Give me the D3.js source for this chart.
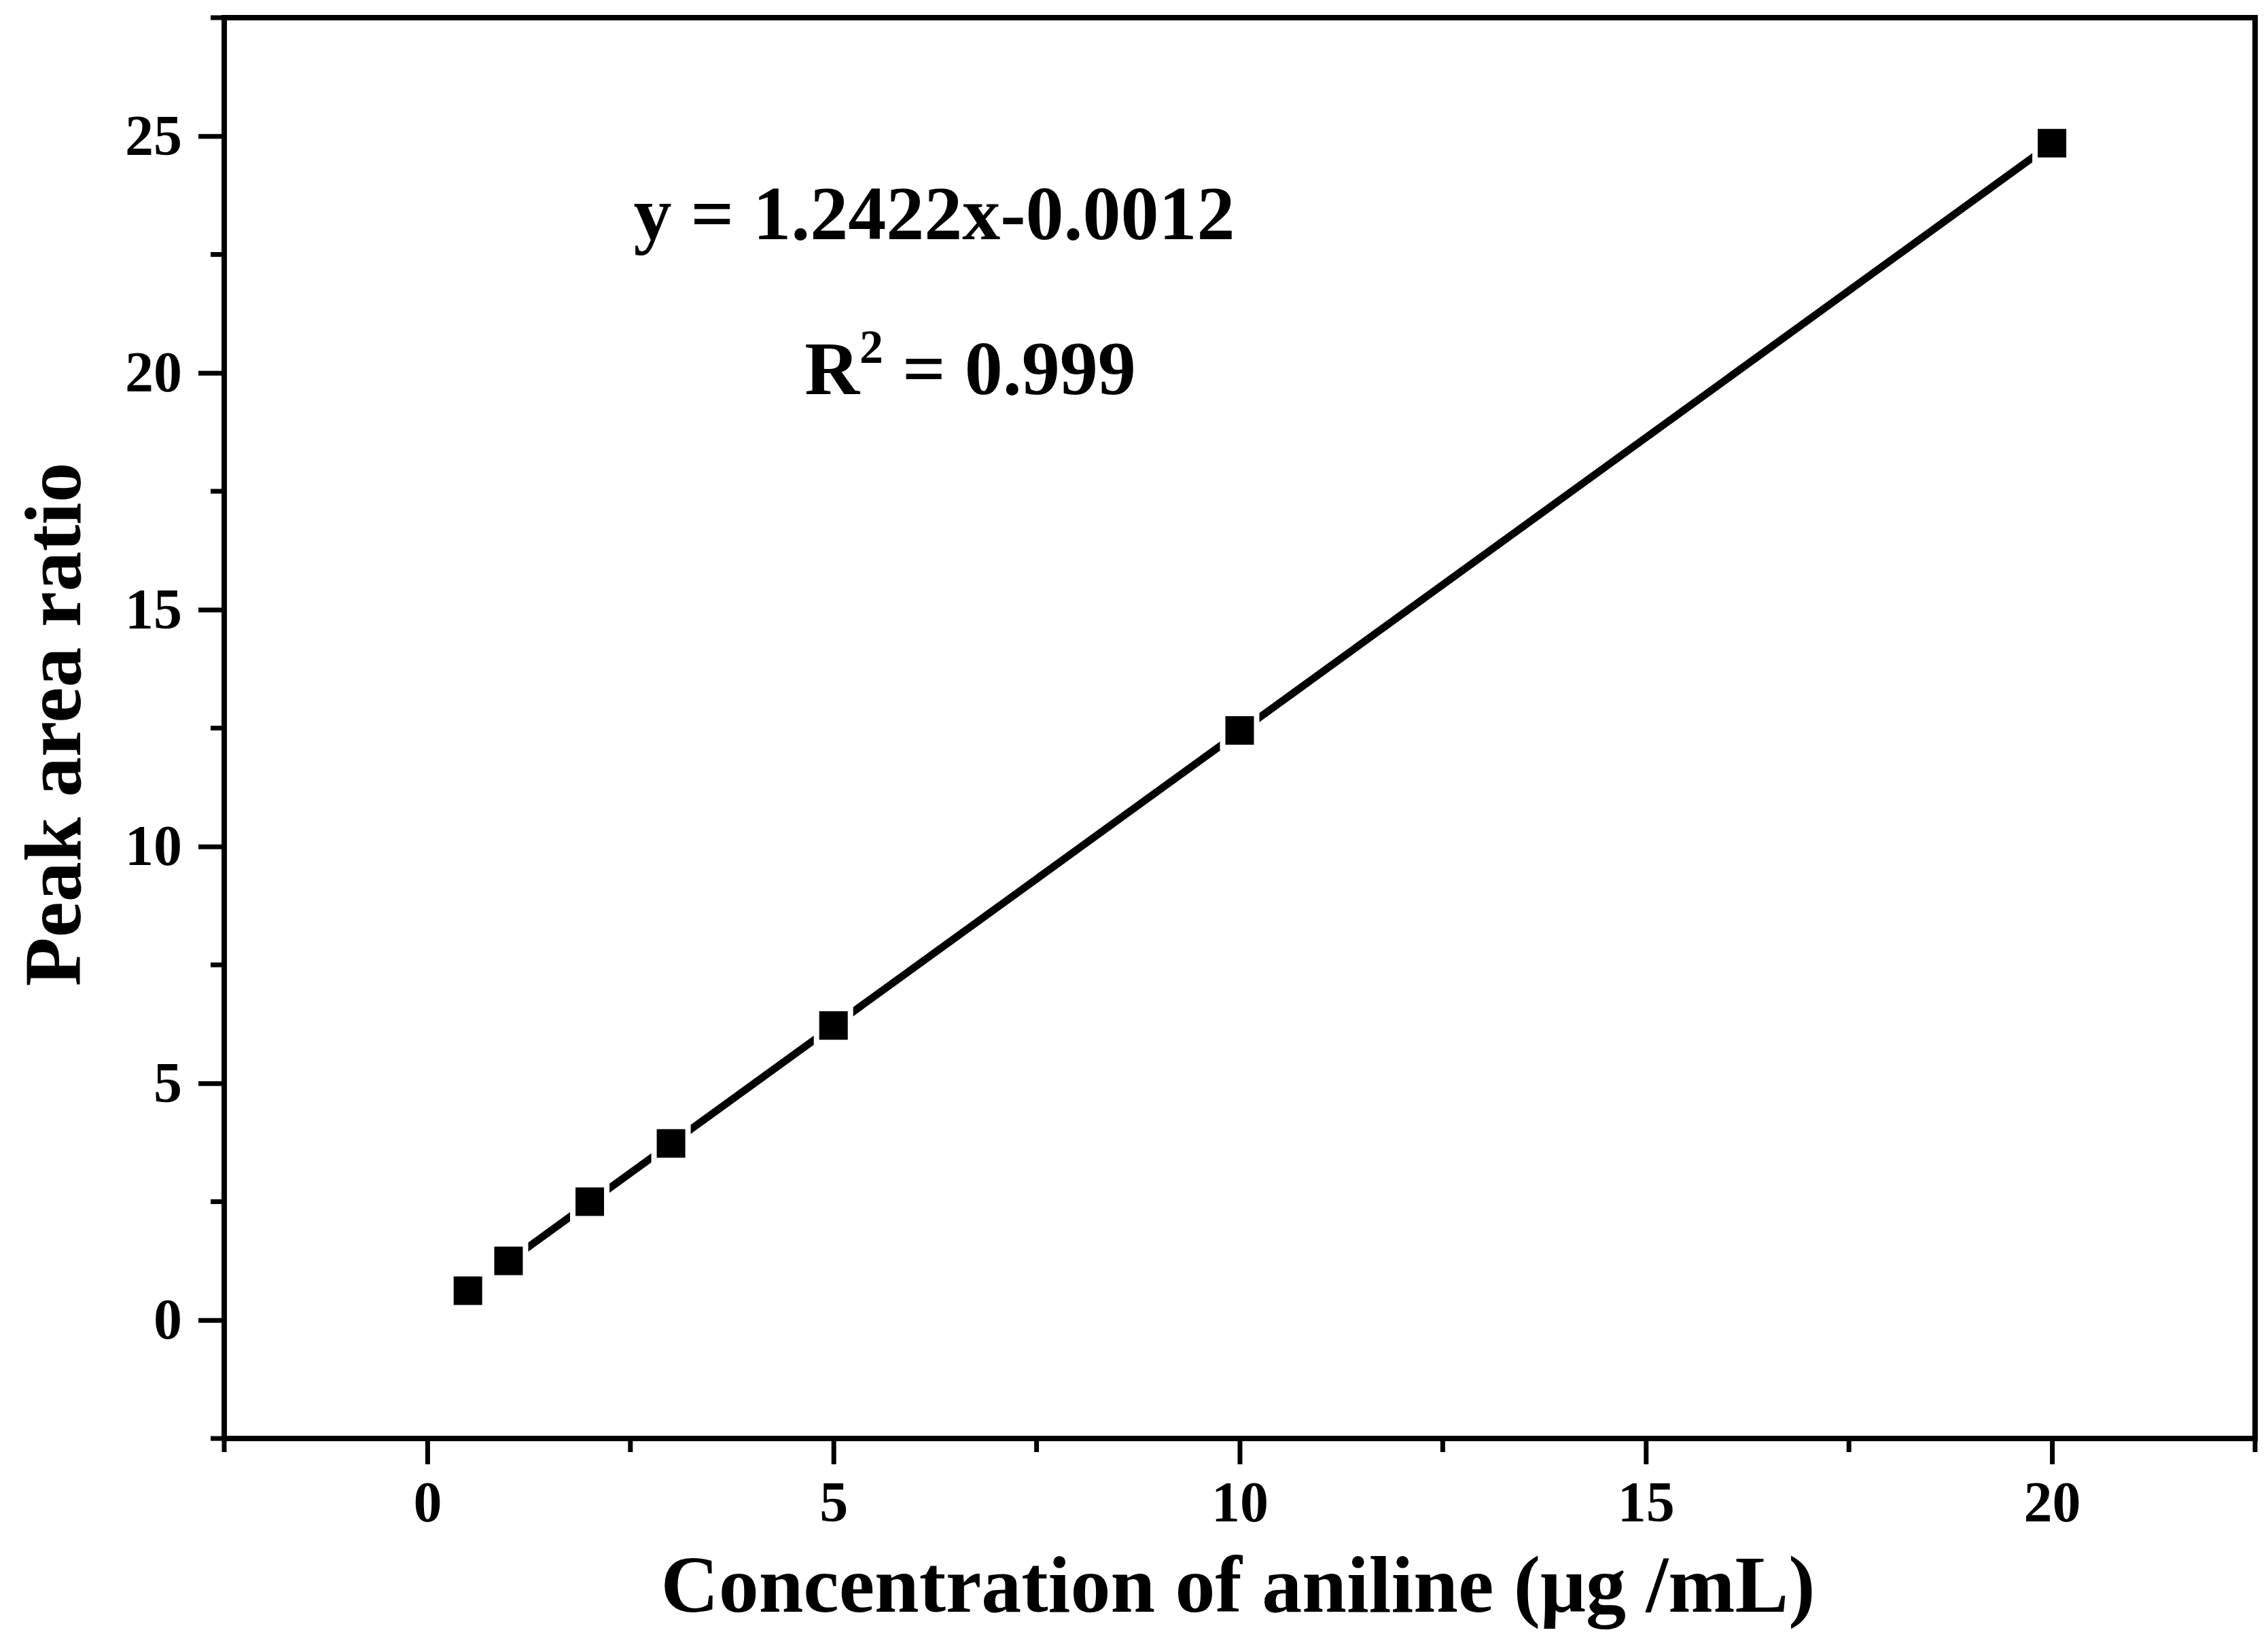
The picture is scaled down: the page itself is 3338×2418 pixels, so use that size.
<!DOCTYPE html>
<html><head><meta charset="utf-8">
<script src="https://cdn.jsdelivr.net/npm/d3@7"></script>
<style>body{margin:0;background:#fff}</style>
</head><body>
<div class="canvas"></div>
<script>
// Data
const conc = [0.5, 1, 2, 3, 5, 10, 20];
const ratio = [0.62, 1.25, 2.5, 3.73, 6.22, 12.45, 24.85];
const slope = 1.2422, intercept = -0.0012;
const fitRange = [1, 20];
const xTicks = [0, 5, 10, 15, 20];
const yTicks = [0, 5, 10, 15, 20, 25];

const W = 3338, H = 2418;
const m = {left: 330, right: 3319, top: 26, bottom: 2117};
const font = '"Liberation Serif", "DejaVu Serif", serif';

const svg = d3.select('.canvas').append('svg')
    .attr('width', W).attr('height', H);

const x = d3.scaleLinear().domain([-2.5, 22.5]).range([m.left, m.right]);
const y = d3.scaleLinear().domain([-2.5, 27.5]).range([m.bottom, m.top]);

// Frame
svg.append('rect')
    .attr('x', m.left).attr('y', m.top)
    .attr('width', m.right - m.left).attr('height', m.bottom - m.top)
    .attr('fill', 'none').attr('stroke', '#000').attr('stroke-width', 8);

// Axes
const xAxis = svg.append('g').attr('transform', `translate(0,${m.bottom})`)
    .call(d3.axisBottom(x).tickValues(xTicks).tickSize(38).tickPadding(24).tickFormat(d3.format('d')));
const yAxis = svg.append('g').attr('transform', `translate(${m.left},0)`)
    .call(d3.axisLeft(y).tickValues(yTicks).tickSize(38).tickPadding(24).tickFormat(d3.format('d')));
[xAxis, yAxis].forEach(a => {
    a.select('.domain').remove();
    a.selectAll('line').attr('stroke-width', 7);
    a.selectAll('text').attr('font-family', font).attr('font-size', 84).attr('font-weight', 'bold').attr('fill', '#000');
});

// Minor ticks
const xMinor = d3.range(-2.5, 22.6, 2.5).filter(v => v % 5 !== 0);
const yMinor = d3.range(-2.5, 27.6, 2.5).filter(v => v % 5 !== 0);
svg.append('g').selectAll('line').data(xMinor).join('line')
    .attr('x1', d => x(d)).attr('x2', d => x(d))
    .attr('y1', m.bottom).attr('y2', m.bottom + 20)
    .attr('stroke', '#000').attr('stroke-width', 7);
svg.append('g').selectAll('line').data(yMinor).join('line')
    .attr('y1', d => y(d)).attr('y2', d => y(d))
    .attr('x1', m.left).attr('x2', m.left - 20)
    .attr('stroke', '#000').attr('stroke-width', 7);

// Fit line
svg.append('line')
    .attr('x1', x(fitRange[0])).attr('y1', y(slope * fitRange[0] + intercept))
    .attr('x2', x(fitRange[1])).attr('y2', y(slope * fitRange[1] + intercept))
    .attr('stroke', '#000').attr('stroke-width', 11);

// Markers
const s = 50;
svg.append('g').selectAll('rect').data(conc).join('rect')
    .attr('x', (d, i) => x(d) - s / 2)
    .attr('y', (d, i) => y(ratio[i]) - s / 2)
    .attr('width', s).attr('height', s)
    .attr('fill', '#000').attr('stroke', '#fff').attr('stroke-width', 8);

// Axis titles
svg.append('text')
    .attr('x', 1822).attr('y', 2372)
    .attr('text-anchor', 'middle')
    .attr('font-family', font).attr('font-size', 118).attr('font-weight', 'bold')
    .text('Concentration of aniline (μg /mL)');
svg.append('text')
    .attr('transform', `translate(118,1066) rotate(-90)`)
    .attr('text-anchor', 'middle')
    .attr('font-family', font).attr('font-size', 118).attr('font-weight', 'bold')
    .text('Peak area ratio');

// Equation
svg.append('text')
    .attr('x', 1375).attr('y', 352)
    .attr('text-anchor', 'middle')
    .attr('font-family', font).attr('font-size', 112).attr('font-weight', 'bold')
    .text('y = 1.2422x-0.0012');
const r2 = svg.append('text')
    .attr('x', 1428).attr('y', 580)
    .attr('text-anchor', 'middle')
    .attr('font-family', font).attr('font-size', 112).attr('font-weight', 'bold');
r2.append('tspan').text('R');
r2.append('tspan').attr('dy', -46).attr('font-size', 70).text('2');
r2.append('tspan').attr('dy', 46).text(' = 0.999');
</script>
</body></html>
